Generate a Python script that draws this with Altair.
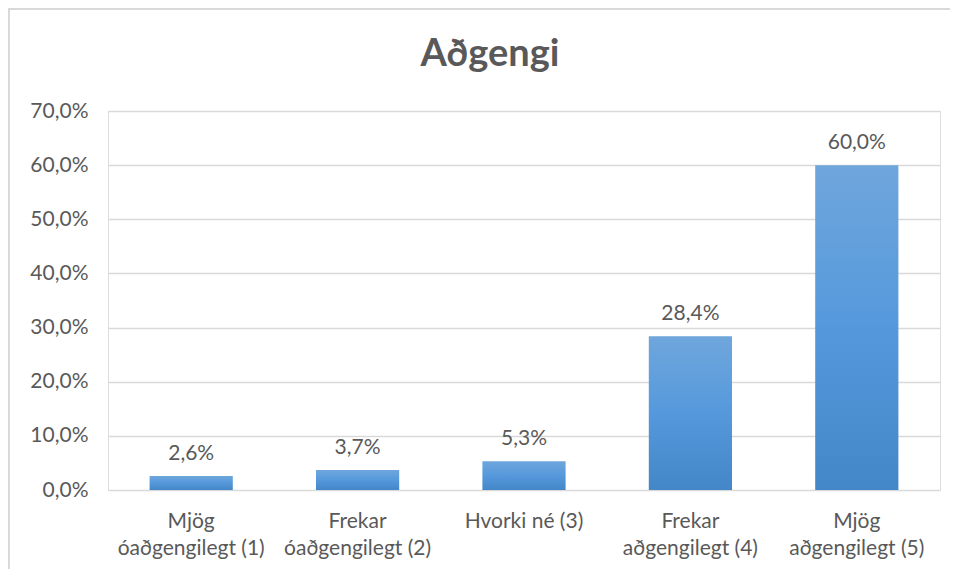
import altair as alt
import pandas as pd

categories = [
    "Mjög|óaðgengilegt (1)",
    "Frekar|óaðgengilegt (2)",
    "Hvorki né (3)",
    "Frekar|aðgengilegt (4)",
    "Mjög|aðgengilegt (5)",
]
values = [2.6, 3.7, 5.3, 28.4, 60.0]
y_ticks = [0, 10, 20, 30, 40, 50, 60, 70]

df = pd.DataFrame({"cat": categories, "val": values})

TEXT = "#595959"
FONT = "Lato"
FS = 21

x_enc = alt.X(
    "cat:N",
    sort=categories,
    scale=alt.Scale(paddingInner=0.5, paddingOuter=0.25),
    axis=alt.Axis(
        title=None,
        labelExpr="split(datum.label, '|')",
        labelAngle=0,
        labelFontSize=FS,
        labelColor=TEXT,
        labelFont=FONT,
        labelPadding=20,
        labelLineHeight=27,
        labelLimit=300,
        ticks=False,
        domain=False,
    ),
)
y_enc = alt.Y(
    "val:Q",
    scale=alt.Scale(domain=[0, 70]),
    axis=alt.Axis(
        title=None,
        values=y_ticks,
        labelExpr="replace(format(datum.value, '.1f'), '.', ',') + '%'",
        labelFontSize=FS,
        labelColor=TEXT,
        labelFont=FONT,
        labelPadding=20,
        ticks=False,
        domain=False,
        gridColor="#d9d9d9",
        gridWidth=1.3,
    ),
)

gradient = alt.Gradient(
    gradient="linear",
    stops=[
        alt.GradientStop(color="#6fa6dc", offset=0),
        alt.GradientStop(color="#5599dc", offset=0.5),
        alt.GradientStop(color="#4387c8", offset=1),
    ],
    x1=0, x2=0, y1=0, y2=1,
)

bars = alt.Chart(df).mark_bar(color=gradient).encode(x=x_enc, y=y_enc)

labels = (
    alt.Chart(df)
    .transform_calculate(lbl="replace(format(datum.val, '.1f'), '.', ',') + '%'")
    .mark_text(fontSize=FS, color=TEXT, font=FONT, baseline="alphabetic", dy=-16)
    .encode(x=alt.X("cat:N", sort=categories), y="val:Q", text="lbl:N")
)

border_left = alt.Chart(df).mark_rule(color="#d9d9d9", strokeWidth=2).encode(
    x=alt.value(-99), y=alt.value(-103), y2=alt.value(460)
)
border_top = alt.Chart(df).mark_rule(color="#d9d9d9", strokeWidth=2).encode(
    x=alt.value(-99), x2=alt.value(842), y=alt.value(-102)
)

chart = (
    alt.layer(border_left, border_top, bars, labels)
    .properties(
        width=832,
        height=379,
        autosize=alt.AutoSizeParams(type="none"),
        padding={"left": 100, "top": 103, "right": 10, "bottom": 79},
        title=alt.TitleParams(
            "Aðgengi",
            fontSize=38,
            font=FONT,
            fontWeight="bold",
            color=TEXT,
            dx=-34,
            offset=-67,
        ),
    )
    .configure_view(stroke=None)
    .configure(background="white")
)

chart.save("out.html", embed_options={"renderer": "svg", "actions": False})
